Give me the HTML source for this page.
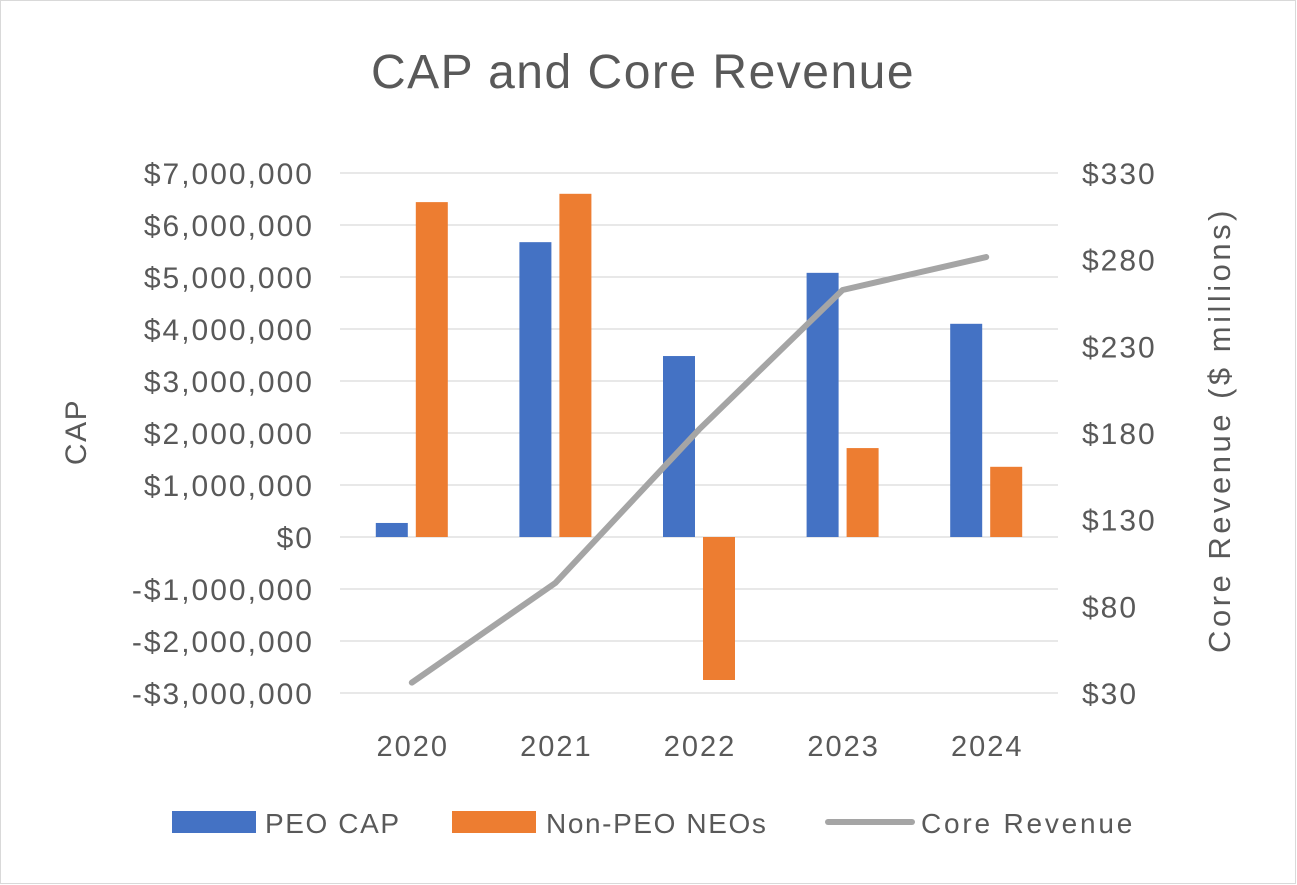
<!DOCTYPE html>
<html><head><meta charset="utf-8"><style>
html,body{margin:0;padding:0;background:#fff;}
svg{display:block;font-family:"Liberation Sans",sans-serif;}
</style></head><body>
<svg id="chart" width="1297" height="885">
<rect x="0.5" y="0.5" width="1295" height="883" fill="#fff" stroke="#d9d9d9"/>
<text x="643" y="88" text-anchor="middle" font-size="48" letter-spacing="1.5" fill="#595959">CAP and Core Revenue</text>
<g id="grid"></g><g id="bars"></g><g id="line"></g><g id="axes"></g>
<text transform="translate(86,432) rotate(-90)" text-anchor="middle" font-size="30" letter-spacing="1.5" fill="#595959">CAP</text>
<text transform="translate(1230,430) rotate(-90)" text-anchor="middle" font-size="31" letter-spacing="3.5" fill="#595959">Core Revenue ($ millions)</text>
<g font-size="28" letter-spacing="1.6">
<rect x="172" y="811" width="84" height="22" fill="#4472c4"/>
<text x="265" y="833" fill="#595959">PEO CAP</text>
<rect x="452" y="811" width="84" height="22" fill="#ed7d31"/>
<text x="546" y="833" fill="#595959">Non-PEO NEOs</text>
<line x1="828" y1="822" x2="912" y2="822" stroke="#a5a5a5" stroke-width="6" stroke-linecap="round"/>
<text x="921" y="833" letter-spacing="2.8" fill="#595959">Core Revenue</text>
</g>
</svg>
<script>
const categories=["2020","2021","2022","2023","2024"];
const peoCap=[270000,5670000,3480000,5080000,4100000];
const nonPeo=[6440000,6600000,-2750000,1710000,1350000];
const revenue=[36,93.5,182,262.5,281.5];
const leftTicks=[7000000,6000000,5000000,4000000,3000000,2000000,1000000,0,-1000000,-2000000,-3000000];
const rightTicks=[330,280,230,180,130,80,30];
const NS="http://www.w3.org/2000/svg";
const X0=340,X1=1058,Y0=173,Y1=693;
const yL=v=>Y1-(v+3000000)/10000000*(Y1-Y0);
const yR=v=>Y1-(v-30)/300*(Y1-Y0);
const band=(X1-X0)/categories.length;
const xC=i=>X0+band*(i+0.5);
function mk(tag,attrs,parent){const e=document.createElementNS(NS,tag);for(const k in attrs)e.setAttribute(k,attrs[k]);document.getElementById(parent).appendChild(e);return e;}
function fmt(v){const s="$"+Math.abs(v).toLocaleString("en-US");return v<0?"-"+s:s;}
leftTicks.forEach(v=>{
 const l=mk("line",{x1:X0,x2:X1,y1:yL(v),y2:yL(v),stroke:"#d9d9d9","stroke-width":1.3},"grid");
 
 
 const t=mk("text",{x:314,y:yL(v)+11,"text-anchor":"end","font-size":30,"letter-spacing":2,fill:"#595959"},"axes");
 t.textContent=fmt(v);
 
 
});
rightTicks.forEach(v=>{
 const t=mk("text",{x:1082,y:yR(v)+11,"font-size":30,"letter-spacing":2,fill:"#595959"},"axes");
 t.textContent="$"+v;
 
 
});
categories.forEach((c,i)=>{
 const t=mk("text",{x:xC(i)+1,y:756,"text-anchor":"middle","font-size":29,"letter-spacing":2,fill:"#595959"},"axes");
 t.textContent=c;
 
 
 const bw=32,gap=8;
 [[peoCap[i],"#4472c4",xC(i)-gap/2-bw,'bar-peo-cap'],[nonPeo[i],"#ed7d31",xC(i)+gap/2,'bar-non-peo']].forEach(([v,col,x,nm])=>{
  const y=Math.min(yL(v),yL(0)),h=Math.abs(yL(v)-yL(0));
  const r=mk("rect",{x:x,y:y,width:bw,height:h,fill:col},"bars");
  
  
 });
});
const p=mk("polyline",{points:revenue.map((v,i)=>xC(i)+","+yR(v)).join(" "),fill:"none",stroke:"#a5a5a5","stroke-width":6,"stroke-linecap":"round","stroke-linejoin":"round"},"line");


</script>
</body></html>
